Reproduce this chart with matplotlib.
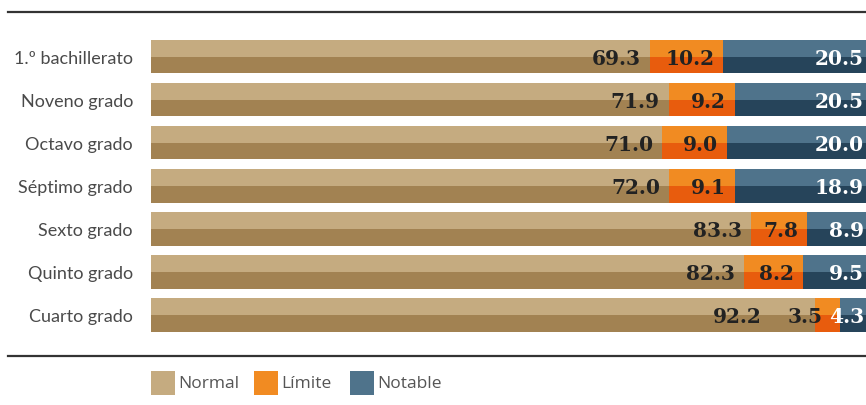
import matplotlib
matplotlib.use("Agg")
import matplotlib.pyplot as plt
from matplotlib.patches import Rectangle
from matplotlib.lines import Line2D

categories = ["Cuarto grado", "Quinto grado", "Sexto grado", "Séptimo grado",
              "Octavo grado", "Noveno grado", "1.º bachillerato"]
normal = [92.2, 82.3, 83.3, 72.0, 71.0, 71.9, 69.3]
limite = [3.5, 8.2, 7.8, 9.1, 9.0, 9.2, 10.2]
notable = [4.3, 9.5, 8.9, 18.9, 20.0, 20.5, 20.5]
series_names = ["Normal", "Límite", "Notable"]

light = ["#c5ab80", "#f18b22", "#4f738b"]
dark = ["#a28252", "#e85c0d", "#26445a"]
txtcol = ["#222222", "#222222", "#ffffff"]

W, H = 866, 406
XMAX = 99.3
fig = plt.figure(figsize=(W / 100, H / 100), dpi=100)
ax = fig.add_axes([151 / W, (H - 357) / H, 715 / W, 344 / H])

# label x-offsets in pixels (row 0 labels are moved to avoid overlap)
offsets = {(0, 0): -53, (0, 1): -18}

h = 0.78
ys = list(range(len(categories)))
left = [0.0] * len(categories)
for k, vals in enumerate([normal, limite, notable]):
    ax.barh(ys, vals, left=left, height=h, color=dark[k], linewidth=0)
    ax.barh([y + h / 4 for y in ys], vals, left=left, height=h / 2,
            color=light[k], linewidth=0)
    for i, (y, l, v) in enumerate(zip(ys, left, vals)):
        xend = min(l + v, XMAX)
        dx = offsets.get((i, k), -2 if k == 2 else -9)
        ax.annotate(f"{v:.1f}", xy=(xend, y), xytext=(dx, -1),
                    textcoords="offset pixels", ha="right", va="center",
                    fontsize=14.5, fontweight="bold", family="DejaVu Serif",
                    color=txtcol[k], annotation_clip=False)
    left = [a + b for a, b in zip(left, vals)]

ax.set_xlim(0, XMAX)
ax.set_ylim(-0.952, 7.033)
ax.set_yticks(ys)
ax.set_yticklabels(categories, family="Lato", fontsize=13, color="#4a4a4a")
ax.tick_params(axis="y", length=0, pad=13)
ax.set_xticks([])
for s in ax.spines.values():
    s.set_visible(False)

# top and bottom rules
for yp in (13, 357):
    fig.add_artist(Line2D([8 / W, 1.0], [1 - yp / H, 1 - yp / H],
                          color="#333333", linewidth=1.6,
                          transform=fig.transFigure))

# legend
for k, xp in enumerate([151, 254, 350]):
    fig.add_artist(Rectangle((xp / W, 1 - 396 / H), 24 / W, 24 / H,
                             facecolor=light[k], edgecolor="none",
                             transform=fig.transFigure))
    fig.text((xp + 27) / W, 1 - 384 / H, series_names[k], family="Open Sans",
             fontsize=12.5, color="#555555", ha="left", va="center")

fig.savefig("out.png", dpi=100)
